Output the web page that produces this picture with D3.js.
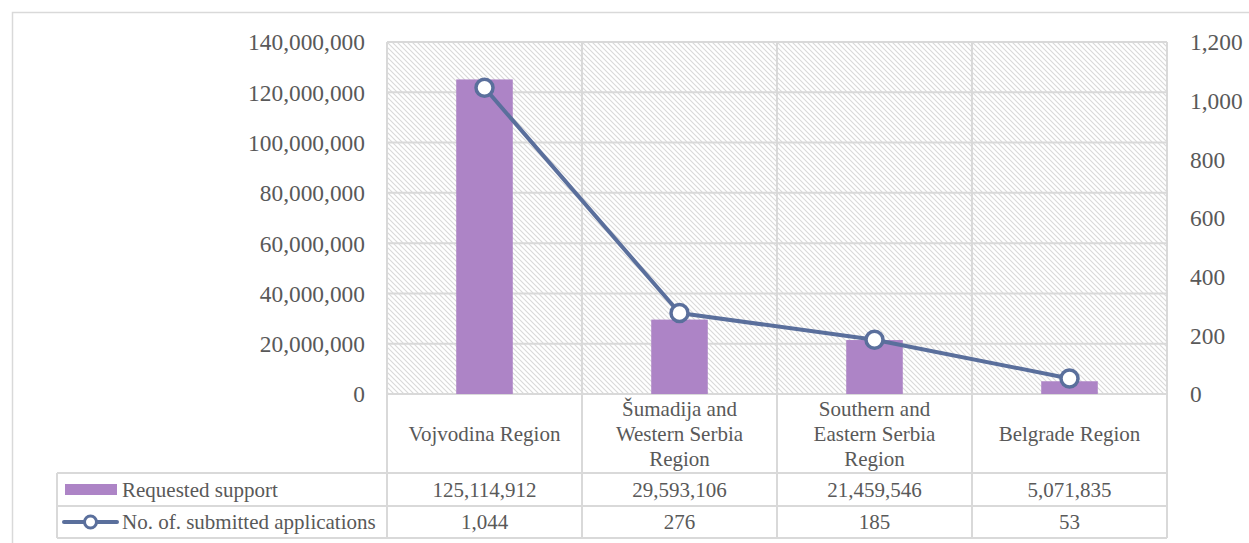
<!DOCTYPE html>
<html>
<head>
<meta charset="utf-8">
<script src="https://cdn.jsdelivr.net/npm/d3@7"></script>
<style>
  html, body { margin: 0; padding: 0; background: #fff; }
  svg { display: block; }
  text { font-family: "Liberation Serif", "Times New Roman", serif; fill: #595959; }
</style>
</head>
<body>
<svg id="chart"></svg>
<script>
// --- DATA ---
const categories = [
    ['Vojvodina Region'],
    ['Šumadija and', 'Western Serbia', 'Region'],
    ['Southern and', 'Eastern Serbia', 'Region'],
    ['Belgrade Region']
];
const requestedSupport = [125114912, 29593106, 21459546, 5071835];
const applications = [1044, 276, 185, 53];
const leftTicks = [0, 20000000, 40000000, 60000000, 80000000, 100000000, 120000000, 140000000];
const rightTicks = [0, 200, 400, 600, 800, 1000, 1200];
const seriesNames = ['Requested support', 'No. of. submitted applications'];

// --- SETUP ---
const width = 1249, height = 543;
const svg = d3.select('#chart').attr('width', width).attr('height', height);

const gridColor = '#d9d9d9';
const barColor = '#ad84c6';
const lineColor = '#5a6f9c';
const fmt = d3.format(',');

const plot = { left: 387, right: 1167, top: 42, bottom: 394 };
const rowLines = [394, 473, 506, 538];
const legendLeft = 57;

const x = d3.scaleBand()
    .domain(d3.range(categories.length))
    .range([plot.left, plot.right])
    .padding(0);
const yLeft = d3.scaleLinear().domain([0, 140000000]).range([plot.bottom, plot.top]);
const yRight = d3.scaleLinear().domain([0, 1200]).range([plot.bottom, plot.top]);

// outer border
svg.append('rect')
    .attr('x', 12.5).attr('y', 12.5)
    .attr('width', 1250).attr('height', 560)
    .attr('fill', 'none').attr('stroke', gridColor).attr('stroke-width', 1.5);

// hatch pattern
const defs = svg.append('defs');
const pat = defs.append('pattern')
    .attr('id', 'hatch')
    .attr('patternUnits', 'userSpaceOnUse')
    .attr('width', 5).attr('height', 5);
pat.append('rect').attr('width', 5).attr('height', 5).attr('fill', '#fff');
pat.append('path')
    .attr('d', 'M-1,-1 L6,6 M-1,4 L1,6 M4,-1 L6,1')
    .attr('stroke', '#d9d9d9').attr('stroke-width', 1.1);

svg.append('rect')
    .attr('x', plot.left).attr('y', plot.top)
    .attr('width', plot.right - plot.left).attr('height', plot.bottom - plot.top)
    .attr('fill', 'url(#hatch)');

// horizontal gridlines
svg.append('g').selectAll('line')
    .data(leftTicks)
    .join('line')
    .attr('x1', plot.left).attr('x2', plot.right)
    .attr('y1', d => yLeft(d)).attr('y2', d => yLeft(d))
    .attr('stroke', gridColor).attr('stroke-width', 2);

// vertical lines (plot + table)
const vBounds = d3.range(categories.length + 1).map(i => i < categories.length ? x(i) : x(i - 1) + x.bandwidth());
svg.append('g').selectAll('line')
    .data(vBounds)
    .join('line')
    .attr('x1', d => d).attr('x2', d => d)
    .attr('y1', plot.top).attr('y2', rowLines[3])
    .attr('stroke', gridColor).attr('stroke-width', 2);

// table row lines
svg.append('g').selectAll('line')
    .data(rowLines)
    .join('line')
    .attr('x1', (d, i) => i === 0 ? plot.left : legendLeft)
    .attr('x2', plot.right)
    .attr('y1', d => d).attr('y2', d => d)
    .attr('stroke', gridColor).attr('stroke-width', 2);
svg.append('line')
    .attr('x1', legendLeft).attr('x2', legendLeft)
    .attr('y1', rowLines[1]).attr('y2', rowLines[3])
    .attr('stroke', gridColor).attr('stroke-width', 2);

// --- BARS ---
const barW = x.bandwidth() * 0.29;
svg.append('g').selectAll('rect')
    .data(requestedSupport)
    .join('rect')
    .attr('x', (d, i) => x(i) + x.bandwidth() / 2 - barW / 2)
    .attr('y', d => yLeft(d))
    .attr('width', barW)
    .attr('height', d => plot.bottom - yLeft(d))
    .attr('fill', barColor);

// --- LINE ---
const line = d3.line()
    .x((d, i) => x(i) + x.bandwidth() / 2)
    .y(d => yRight(d));
svg.append('path')
    .datum(applications)
    .attr('d', line)
    .attr('fill', 'none')
    .attr('stroke', lineColor)
    .attr('stroke-width', 4)
    .attr('stroke-linejoin', 'round');
svg.append('g').selectAll('circle')
    .data(applications)
    .join('circle')
    .attr('cx', (d, i) => x(i) + x.bandwidth() / 2)
    .attr('cy', d => yRight(d))
    .attr('r', 8.5)
    .attr('fill', '#fff')
    .attr('stroke', lineColor)
    .attr('stroke-width', 3.5);

// --- AXES ---
const leftAxis = svg.append('g')
    .attr('transform', `translate(${plot.left - 22},0)`)
    .call(d3.axisLeft(yLeft).tickValues(leftTicks).tickFormat(fmt).tickSize(0).tickPadding(0));
const rightAxis = svg.append('g')
    .attr('transform', `translate(${plot.right + 23},0)`)
    .call(d3.axisRight(yRight).tickValues(rightTicks).tickFormat(fmt).tickSize(0).tickPadding(0));
[leftAxis, rightAxis].forEach(ax => {
    ax.select('.domain').remove();
    ax.selectAll('text')
        .attr('fill', '#595959')
        .style('font-family', '"Liberation Serif", "Times New Roman", serif')
        .style('font-size', '23.4px')
        .attr('dy', '0.34em');
});

// --- DATA TABLE ---
const catCenterY = (rowLines[0] + rowLines[1]) / 2;
const lineH = 25;
svg.append('g').selectAll('text')
    .data(categories)
    .join('text')
    .attr('x', (d, i) => x(i) + x.bandwidth() / 2)
    .attr('y', d => catCenterY - (d.length - 1) * lineH / 2)
    .attr('text-anchor', 'middle')
    .style('font-size', '21px')
    .each(function(d) {
        d3.select(this).selectAll('tspan')
            .data(d)
            .join('tspan')
            .attr('x', d3.select(this).attr('x'))
            .attr('dy', (t, j) => j === 0 ? '0.34em' : lineH)
            .text(t => t);
    });

const rows = [requestedSupport, applications];
rows.forEach((vals, r) => {
    const cy = (rowLines[r + 1] + rowLines[r + 2]) / 2;
    svg.append('g').selectAll('text')
        .data(vals)
        .join('text')
        .attr('x', (d, i) => x(i) + x.bandwidth() / 2)
        .attr('y', cy)
        .attr('dy', '0.34em')
        .attr('text-anchor', 'middle')
        .style('font-size', '21px')
        .text(d => fmt(d));

    svg.append('text')
        .attr('x', 122)
        .attr('y', cy)
        .attr('dy', '0.34em')
        .style('font-size', '21px')
        .text(seriesNames[r]);
});

// legend keys
const r1 = (rowLines[1] + rowLines[2]) / 2;
const r2 = (rowLines[2] + rowLines[3]) / 2;
svg.append('rect')
    .attr('x', 65).attr('y', r1 - 5.5)
    .attr('width', 52).attr('height', 11)
    .attr('fill', barColor);
svg.append('line')
    .attr('x1', 64).attr('x2', 117)
    .attr('y1', r2).attr('y2', r2)
    .attr('stroke', lineColor).attr('stroke-width', 4).attr('stroke-linecap', 'round');
svg.append('circle')
    .attr('cx', 90.5).attr('cy', r2).attr('r', 6)
    .attr('fill', '#fff').attr('stroke', lineColor).attr('stroke-width', 3);
</script>
</body>
</html>
